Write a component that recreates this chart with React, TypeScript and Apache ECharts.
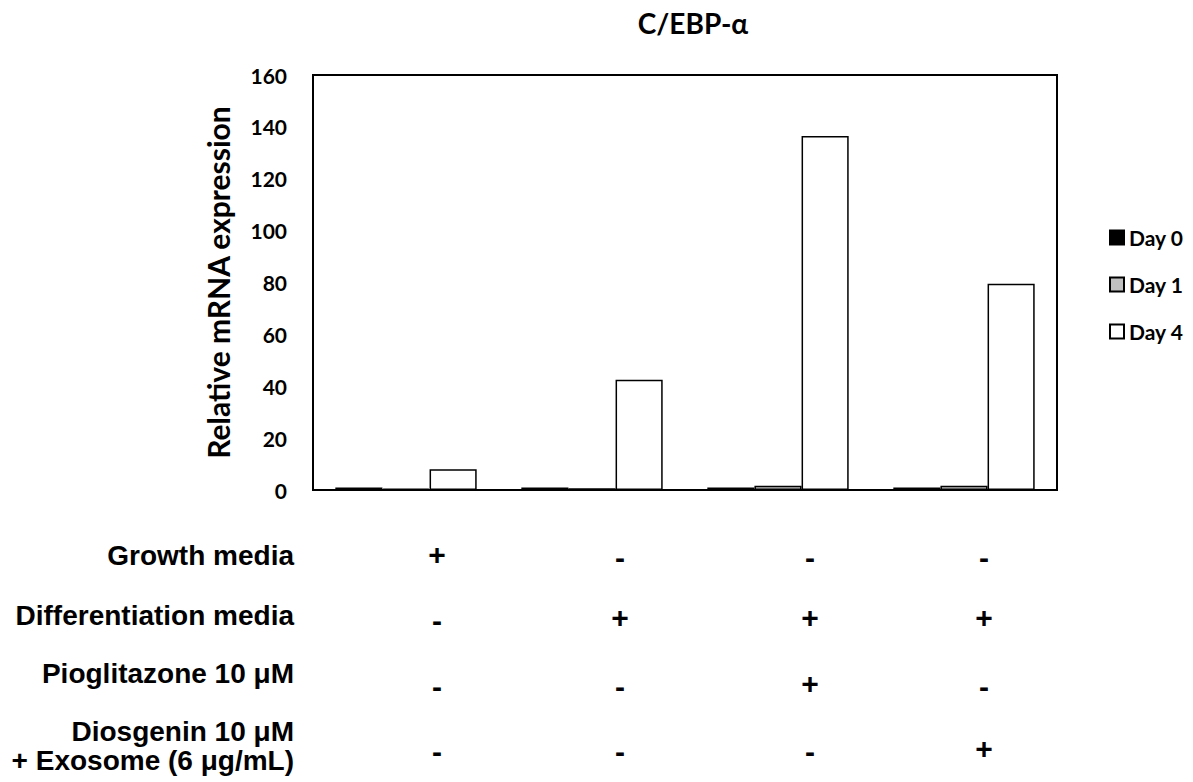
import React, { useEffect, useRef } from "react";
import * as echarts from "echarts";

const categories = ["G1", "G2", "G3", "G4"];
const seriesNames = ["Day 0", "Day 1", "Day 4"];
const day0 = [1, 1, 1, 1];
const day1 = [0.5, 0.7, 1.6, 1.6];
const day4 = [8, 42.5, 136.5, 79.5];
const yTicks = { min: 0, max: 160, interval: 20 };

const conditionLabels = [
  ["Growth media"],
  ["Differentiation media"],
  ["Pioglitazone 10 μM"],
  ["Diosgenin 10 μM", "+ Exosome (6 μg/mL)"],
];
const conditionMatrix = [
  ["+", "-", "-", "-"],
  ["-", "+", "+", "+"],
  ["-", "-", "+", "-"],
  ["-", "-", "-", "+"],
];

const LABEL_FONT = "'Liberation Sans', Arial, sans-serif";
const CHART_FONT = "Lato, 'Open Sans', sans-serif";

export default function App() {
  const ref = useRef<HTMLDivElement>(null);
  useEffect(() => {
    if (!ref.current) return;
    const chart = echarts.init(ref.current, undefined, { renderer: "svg" });
    const labelY = [[555], [615], [673], [731, 760]];
    const symY = [554, 617, 683, 748];
    const symX = [437, 620, 810, 984];
    const graphics: any[] = [];
    conditionLabels.forEach((lines, i) => {
      lines.forEach((t, j) => {
        graphics.push({
          type: "text",
          x: 294,
          y: labelY[i][j],
          style: {
            text: t,
            font: `bold 28px ${LABEL_FONT}`,
            fill: "#000",
            textAlign: "right",
            textVerticalAlign: "middle",
          },
        });
      });
      conditionMatrix[i].forEach((s, k) => {
        graphics.push({
          type: "text",
          x: symX[k],
          y: symY[i] + (s === "-" ? 3 : 0),
          style: {
            text: s,
            font: `bold 30px ${LABEL_FONT}`,
            fill: "#000",
            textAlign: "center",
            textVerticalAlign: "middle",
          },
        });
      });
    });

    const barStyle = (color: string) => ({
      color,
      borderColor: "#000",
      borderWidth: 1.5,
    });

    chart.setOption({
      animation: false,
      backgroundColor: "#fff",
      title: {
        text: "C/EBP-α",
        left: 688,
        top: 4,
        textAlign: "center",
        textStyle: { fontFamily: CHART_FONT, fontWeight: "bold", fontSize: 28, color: "#000" },
      },
      legend: {
        orient: "vertical",
        left: 1104,
        top: 222,
        itemWidth: 14,
        itemHeight: 14,
        itemGap: 26,
        icon: "rect",
        textStyle: { fontFamily: CHART_FONT, fontWeight: "bold", fontSize: 21, lineHeight: 21, color: "#000" },
        data: seriesNames,
      },
      grid: {
        left: 313,
        top: 75,
        right: 136,
        bottom: 292,
        show: true,
        borderColor: "#000",
        borderWidth: 2,
        backgroundColor: "transparent",
      },
      xAxis: {
        type: "category",
        data: categories,
        axisLine: { show: true, lineStyle: { color: "#000", width: 2 } },
        axisTick: { show: false },
        axisLabel: { show: false },
      },
      yAxis: {
        type: "value",
        min: yTicks.min,
        max: yTicks.max,
        interval: yTicks.interval,
        name: "Relative mRNA expression",
        nameLocation: "middle",
        nameGap: 80,
        nameRotate: 90,
        nameTextStyle: { fontFamily: CHART_FONT, fontWeight: "bold", fontSize: 30, color: "#000" },
        axisLine: { show: true, lineStyle: { color: "#000", width: 2 } },
        axisTick: { show: false },
        splitLine: { show: false },
        axisLabel: { margin: 26, fontFamily: CHART_FONT, fontWeight: "bold", fontSize: 21, color: "#000" },
      },
      series: [
        { name: seriesNames[0], type: "bar", data: day0, itemStyle: barStyle("#000"), barGap: "0%", barCategoryGap: "24%" },
        { name: seriesNames[1], type: "bar", data: day1, itemStyle: barStyle("#c0c0c0"), barGap: "0%", barCategoryGap: "24%" },
        { name: seriesNames[2], type: "bar", data: day4, itemStyle: barStyle("#fff"), barGap: "0%", barCategoryGap: "24%" },
      ],
      graphic: graphics,
    });
    return () => chart.dispose();
  }, []);
  return <div ref={ref} style={{ width: 1193, height: 782, position: "absolute", left: 0, top: 0 }} />;
}
